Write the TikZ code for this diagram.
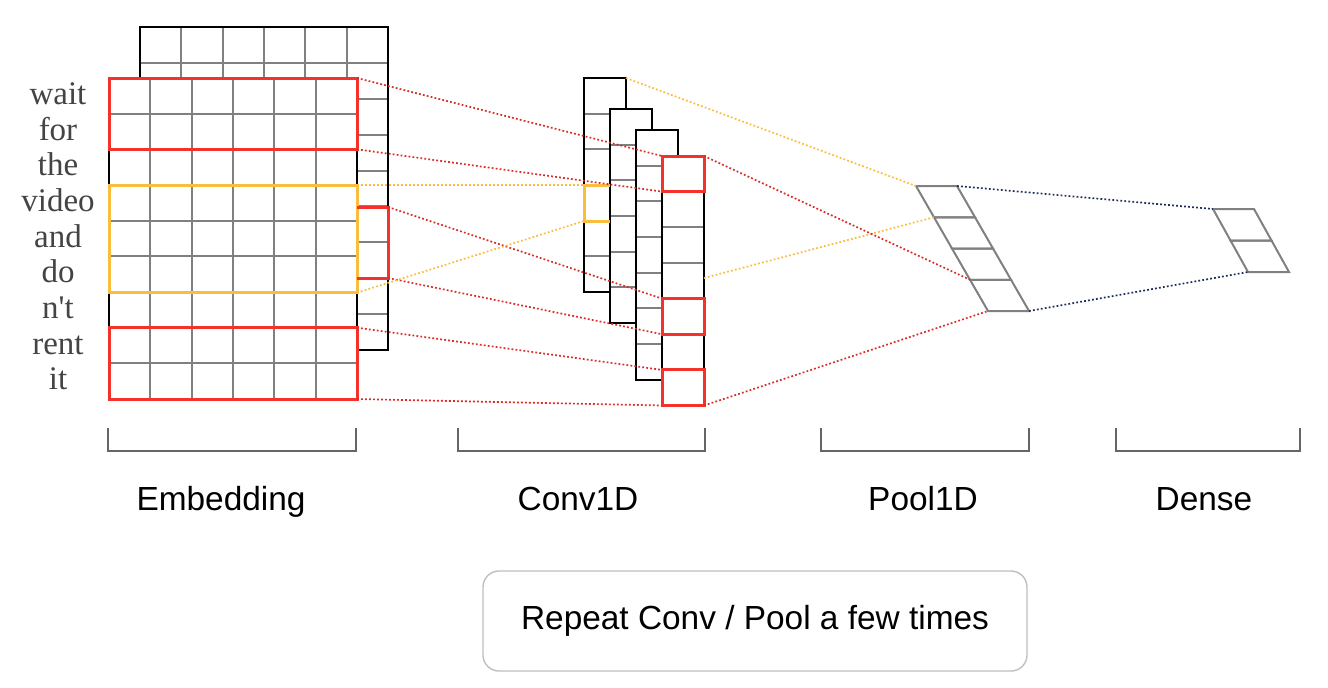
\documentclass[tikz,border=0pt]{standalone}
\usepackage{fontspec}
\setmainfont{Liberation Serif}
\setsansfont{Liberation Sans}
\usepackage{tikz}
\usetikzlibrary{positioning}
\definecolor{hlred}{HTML}{F2322B}
\definecolor{hlgold}{HTML}{FBBD3E}
\definecolor{gridgray}{HTML}{808080}
\definecolor{navy}{HTML}{1E2D5C}
\definecolor{wordgray}{HTML}{444444}

\begin{document}
\begin{tikzpicture}[x=0.5pt,y=-0.5pt,
  cellgrid/.style={draw=gridgray,line width=1pt},
  outline/.style={draw=black,line width=1pt},
  redbox/.style={draw=hlred,line width=1.5pt},
  goldbox/.style={draw=hlgold,line width=1.5pt},
  reddot/.style={draw=hlred!90!black,line width=0.85pt,dash pattern=on 0.9pt off 1.1pt},
  golddot/.style={draw=hlgold,line width=0.85pt,dash pattern=on 0.9pt off 1.1pt},
  navydot/.style={draw=navy,line width=0.85pt,dash pattern=on 0.9pt off 1.1pt},
  poolcell/.style={draw=gridgray,line width=1pt},
  bracket/.style={draw=black!60,line width=0.8pt},
  word/.style={font=\fontsize{16.5}{18}\selectfont,text=wordgray,anchor=mid},
  layer/.style={font=\sffamily\fontsize{16.7}{20}\selectfont,anchor=base},
  note/.style={draw=black!25,line width=0.7pt,rounded corners=8pt,minimum width=272pt,minimum height=50pt,font=\sffamily\fontsize{16.7}{20}\selectfont}
]
\useasboundingbox (0,0) rectangle (1328,687);

% embedding, back sheet
\fill[white] (140,27) rectangle (388,350);
\foreach \i in {1,...,5} \draw[cellgrid] ({140+\i*248/6},27) -- ({140+\i*248/6},350);
\foreach \j in {1,...,8} \draw[cellgrid] (140,{27+\j*323/9}) -- (388,{27+\j*323/9});
\draw[outline] (140,27) rectangle (388,350);

% embedding, front sheet
\fill[white] (109,78) rectangle (357,399);
\foreach \i in {1,...,5} \draw[cellgrid] ({109+\i*248/6},78) -- ({109+\i*248/6},399);
\foreach \j in {1,...,8} \draw[cellgrid] (109,{78+\j*321/9}) -- (357,{78+\j*321/9});
\draw[outline] (109,78) rectangle (357,399);
\draw[redbox] (109,78) rectangle (357,149.3);
\draw[goldbox] (109,185) rectangle (357,292.7);
\draw[redbox] (109,327.7) rectangle (357,399);
\draw[redbox] (357,207) -- (388,207) -- (388,278) -- (357,278);

\foreach \w [count=\i from 0] in {wait,for,the,video,and,do,{n\textquotesingle t},rent,it}
  \node[word] (w\i) at (58,{78+(\i+0.5)*321/9+4}) {\w};

% conv filters
\foreach \x/\y/\n in {584/78/6,610/109/6,636/130/7,662/156/7}{
  \fill[white] (\x,\y) rectangle ({\x+42},{\y+\n*35.65});
  \foreach \j in {1,...,\n} \draw[cellgrid] (\x,{\y+\j*35.65}) -- ({\x+42},{\y+\j*35.65});
  \draw[outline] (\x,\y) rectangle ({\x+42},{\y+\n*35.65});
}
\draw[goldbox] (610,185) -- (584,185) -- (584,221) -- (610,221);
\draw[redbox] (662,156) rectangle (704,191.6);
\draw[redbox] (662,298.6) rectangle (704,334.2);
\draw[redbox] (662,369.9) rectangle (704,405.5);

% pool and dense
\foreach \k in {0,...,3}
  \draw[poolcell] ({916+\k*18},{186+\k*31.25}) -- ++(41,0) -- ++(18,31.25) -- ++(-41,0) -- cycle;
\foreach \k in {0,1}
  \draw[poolcell] ({1213+\k*17.5},{209+\k*31.5}) -- ++(41,0) -- ++(17.5,31.5) -- ++(-41,0) -- cycle;

% connector ends
\coordinate (eR1a) at (357,78);
\coordinate (eR1b) at (357,149.3);
\coordinate (eYa) at (357,185);
\coordinate (eYb) at (357,292.7);
\coordinate (eR2a) at (388,207);
\coordinate (eR2b) at (388,278);
\coordinate (eR3a) at (357,327.7);
\coordinate (eR3b) at (357,399);
\coordinate (cYa) at (584,185);
\coordinate (cYb) at (584,221);
\coordinate (cTop) at (626,78);
\coordinate (cA) at (662,156);
\coordinate (cB) at (662,191.6);
\coordinate (cC) at (662,298.6);
\coordinate (cD) at (662,334.2);
\coordinate (cE) at (662,369.9);
\coordinate (cF) at (662,405.5);
\coordinate (cTR) at (704,156);
\coordinate (cMid) at (704,278);
\coordinate (cBR) at (704,405.5);
\coordinate (pTL) at (916,186);
\coordinate (pR1) at (934,217.25);
\coordinate (pR3) at (970,279.75);
\coordinate (pBL) at (988,311);
\coordinate (pTR) at (957,186);
\coordinate (pBR) at (1029,311);
\coordinate (dTL) at (1213,209);
\coordinate (dBL) at (1248,272);

\draw[reddot] (eR1a) -- (cA);
\draw[reddot] (eR1b) -- (cB);
\draw[reddot] (eR2a) -- (cC);
\draw[reddot] (eR2b) -- (cD);
\draw[reddot] (eR3a) -- (cE);
\draw[reddot] (eR3b) -- (cF);
\draw[golddot] (eYa) -- (cYa);
\draw[golddot] (eYb) -- (cYb);
\draw[golddot] (cTop) -- (pTL);
\draw[golddot] (cMid) -- (pR1);
\draw[reddot] (cTR) -- (pR3);
\draw[reddot] (cBR) -- (pBL);
\draw[navydot] (pTR) -- (dTL);
\draw[navydot] (pBR) -- (dBL);

% brackets and labels
\foreach \a/\b in {108/356,458/705,821/1029,1116/1300}
  \draw[bracket] (\a,428) -- (\a,451) -- (\b,451) -- (\b,428);
\node[layer] (embLbl) at (221,510) {Embedding};
\node[layer] (convLbl) at (578,510) {Conv1D};
\node[layer] (poolLbl) at (923,510) {Pool1D};
\node[layer] (denseLbl) at (1204,510) {Dense};
\node[note] (repeat) at (755,621) {Repeat Conv / Pool a few times};
\end{tikzpicture}
\end{document}
